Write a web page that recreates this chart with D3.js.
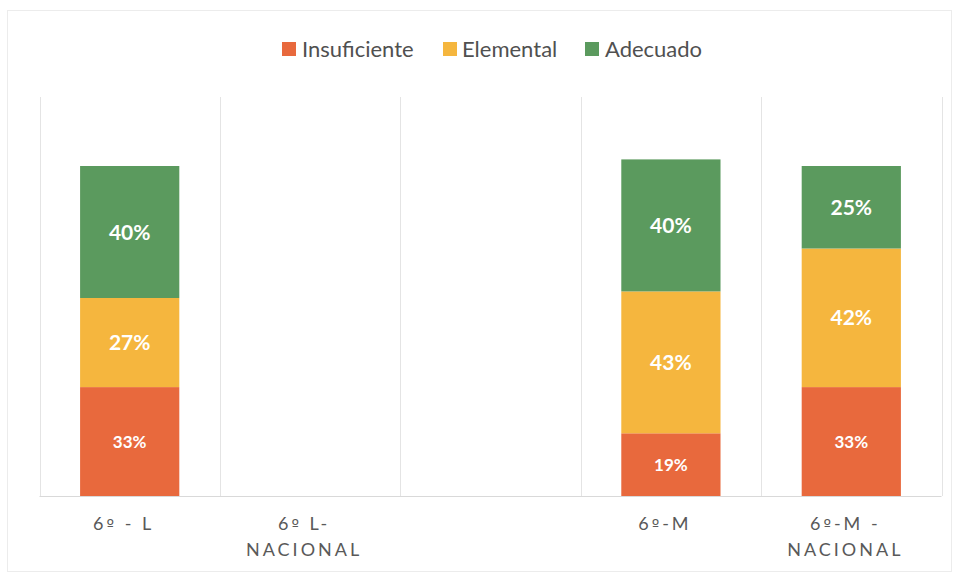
<!DOCTYPE html>
<html>
<head>
<meta charset="utf-8">
<script src="https://cdn.jsdelivr.net/npm/d3@7"></script>
<style>
  html, body { margin: 0; padding: 0; background: #ffffff; }
  svg { display: block; }
</style>
</head>
<body>
<svg id="chart" width="959" height="576"></svg>
<script>
// Categories (label lines separated by "\n"); the third column is an empty slot
const categories = ["6º - L", "6º L-\nNACIONAL", " ", "6º-M", "6º-M -\nNACIONAL"];

// Achievement levels, in stacking order (bottom to top)
const seriesNames = ["Insuficiente", "Elemental", "Adecuado"];
const seriesColors = ["#e8693d", "#f5b63e", "#5b9a5e"];

// Percentages per category (null = no data)
const insuficiente = [33, null, null, 19, 33];
const elemental    = [27, null, null, 43, 42];
const adecuado     = [40, null, null, 40, 25];

const svg = d3.select("#chart");
const font = "Lato, 'Open Sans', sans-serif";

// Faint outer frame of the chart area
svg.append("rect")
  .attr("x", 7.5).attr("y", 10.5).attr("width", 944).attr("height", 561)
  .attr("fill", "none").attr("stroke", "#ececec");

const plot = { left: 39.5, right: 941.5, top: 97, bottom: 496 };

const x = d3.scaleBand().domain(categories).range([plot.left, plot.right]).padding(0);
const y = d3.scaleLinear().domain([0, 100]).range([plot.bottom, plot.bottom - 330]);

// Rows for stacking
const rows = categories.map((c, i) => ({
  cat: c,
  Insuficiente: insuficiente[i],
  Elemental: elemental[i],
  Adecuado: adecuado[i]
}));

const stack = d3.stack()
  .keys(seriesNames)
  .value((d, k) => d[k] == null ? 0 : d[k]);
const stacked = stack(rows);

// Vertical column separators
const bounds = categories.map(c => x(c)).concat([x.range()[1]]);
svg.append("g").selectAll("line").data(bounds).join("line")
  .attr("x1", d => Math.round(d) + 0.5).attr("x2", d => Math.round(d) + 0.5)
  .attr("y1", plot.top).attr("y2", plot.bottom)
  .attr("stroke", "#e4e4e4").attr("stroke-width", 1);

// Baseline
svg.append("line")
  .attr("x1", plot.left).attr("x2", plot.right)
  .attr("y1", plot.bottom + 0.5).attr("y2", plot.bottom + 0.5)
  .attr("stroke", "#d9d9d9");

const barFrac = 0.55;
const barW = x.bandwidth() * barFrac;
const barOff = (x.bandwidth() - barW) / 2;

// Bars
const layers = svg.append("g").selectAll("g").data(stacked).join("g")
  .attr("fill", (d, i) => seriesColors[i]);

layers.selectAll("rect")
  .data(d => d.filter(s => s.data[d.key] != null))
  .join("rect")
  .attr("x", s => x(s.data.cat) + barOff)
  .attr("width", barW)
  .attr("y", s => y(s[1]))
  .attr("height", s => y(s[0]) - y(s[1]));

// Value labels centred in each segment
const labels = svg.append("g");
stacked.forEach(layer => {
  layer.forEach(s => {
    const v = s.data[layer.key];
    if (v == null) return;
    const small = layer.key === "Insuficiente";
    labels.append("text")
      .attr("x", x(s.data.cat) + x.bandwidth() / 2)
      .attr("y", (y(s[0]) + y(s[1])) / 2)
      .attr("dy", "0.36em")
      .attr("text-anchor", "middle")
      .attr("fill", "#ffffff")
      .attr("font-family", font)
      .attr("font-size", small ? 17 : 21)
      .attr("font-weight", 700)
      .text(v + "%");
  });
});

// Category axis labels (ordinal sign drawn in a font with the underlined glyph)
const axisG = svg.append("g");
categories.forEach(c => {
  const cx = x(c) + x.bandwidth() / 2 - 6;
  const t = axisG.append("text")
    .attr("y", 530)
    .attr("text-anchor", "middle")
    .attr("fill", "#595959")
    .attr("font-family", font)
    .attr("font-size", 18)
    .attr("letter-spacing", "3px");
  c.split("\n").forEach((ln, i) => {
    const line = t.append("tspan")
      .attr("x", cx)
      .attr("dy", i === 0 ? 0 : 26);
    ln.split(/(º)/).forEach(part => {
      if (!part) return;
      const sp = line.append("tspan").text(part);
      if (part === "º") sp.attr("font-family", "'DejaVu Sans', sans-serif").attr("font-size", 16);
    });
  });
});

// Legend
const legendItems = [
  { name: seriesNames[0], color: seriesColors[0], sx: 282, tx: 302 },
  { name: seriesNames[1], color: seriesColors[1], sx: 443, tx: 462 },
  { name: seriesNames[2], color: seriesColors[2], sx: 585, tx: 605 }
];
const lg = svg.append("g");
legendItems.forEach(it => {
  lg.append("rect").attr("x", it.sx).attr("y", 42).attr("width", 14).attr("height", 14)
    .attr("fill", it.color);
  lg.append("text").attr("x", it.tx).attr("y", 57)
    .attr("fill", "#505050")
    .attr("font-family", font)
    .attr("font-size", 22)
    .text(it.name);
});
</script>
</body>
</html>
